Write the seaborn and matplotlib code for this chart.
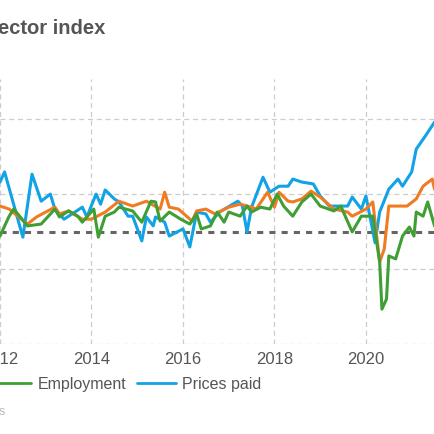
import matplotlib
matplotlib.use("Agg")
import matplotlib.pyplot as plt
import seaborn as sns
import pandas as pd
from matplotlib.lines import Line2D

sns.set_theme(style="white")
plt.rcParams['font.family'] = ['Liberation Sans', 'DejaVu Sans']

prices_t = [2012.0,2012.1,2012.5,2012.7,2012.9,2013.1,2013.2,2013.4,2013.8,2013.9,2014.1,2014.2,2014.3,2014.5,2014.6,2014.8,2014.9,2015.1,2015.2,2015.35,2015.4,2015.6,2015.7,2016.0,2016.15,2016.3,2016.5,2016.6,2016.8,2017.2,2017.3,2017.4,2017.5,2017.75,2017.9,2018.0,2018.1,2018.3,2018.4,2018.6,2018.85,2019.0,2019.2,2019.6,2019.7,2019.9,2020.0,2020.2,2020.3,2020.5,2020.7,2020.8,2021.0,2021.1,2021.3,2021.5]
prices_v = [63.2,65.9,48.5,65.3,58.1,60.0,56.0,53.3,56.5,53.9,60.0,57.3,61.1,58.7,57.9,54.1,54.1,47.5,53.9,51.5,53.9,52.5,48.8,50.7,45.9,55.2,54.7,52.5,55.2,58.1,56.8,49.9,56.5,64.5,60.5,61.3,62.1,62.1,64.0,63.2,62.7,59.5,56.8,56.8,59.2,56.0,59.5,47.0,55.2,61.3,64.0,62.1,65.9,72.0,75.5,79.2]

orders_t = [2012.0,2012.2,2012.6,2012.8,2013.2,2013.3,2013.5,2013.8,2014.0,2014.3,2014.6,2014.9,2015.2,2015.5,2015.6,2015.7,2015.9,2016.2,2016.3,2016.5,2016.7,2017.0,2017.25,2017.5,2017.6,2017.85,2018.0,2018.1,2018.3,2018.4,2018.6,2018.8,2019.0,2019.3,2019.6,2019.7,2020.0,2020.15,2020.3,2020.4,2020.5,2020.9,2021.1,2021.25,2021.45,2021.5]
orders_v = [56.8,56.0,52.0,53.9,56.5,54.7,55.5,53.3,53.3,55.2,58.1,56.8,58.1,56.0,60.5,56.5,56.0,52.8,55.5,56.0,54.7,56.5,57.3,56.5,56.0,60.5,56.5,60.5,58.1,57.9,58.7,60.8,59.2,56.0,55.2,54.1,56.0,57.9,41.9,45.3,56.8,56.8,58.7,62.1,64.0,61.3]

emp_t = [2012.0,2012.2,2012.3,2012.6,2012.9,2013.2,2013.3,2013.5,2013.7,2013.8,2014.05,2014.15,2014.3,2014.5,2014.6,2014.9,2015.1,2015.3,2015.4,2015.5,2015.7,2015.95,2016.15,2016.3,2016.4,2016.6,2016.75,2016.9,2017.0,2017.25,2017.4,2017.5,2017.7,2017.9,2018.06,2018.2,2018.4,2018.6,2018.8,2019.0,2019.3,2019.45,2019.7,2019.9,2020.15,2020.3,2020.35,2020.45,2020.5,2020.65,2020.8,2020.95,2021.05,2021.1,2021.25,2021.35,2021.5]
emp_v = [48.8,54.1,56.0,51.5,52.0,56.0,53.9,55.5,54.1,52.5,56.0,48.5,54.1,55.2,56.5,55.5,52.5,58.1,57.9,52.8,55.2,53.3,52.0,54.7,50.7,51.5,55.2,52.5,55.2,54.1,56.8,55.2,56.5,56.0,60.0,56.8,54.1,57.9,60.0,56.8,55.5,56.8,49.9,54.1,54.1,41.9,29.3,32.0,43.5,42.7,48.8,51.2,48.8,55.2,54.1,57.9,51.5]

xticks = [2012, 2014, 2016, 2018, 2020]
yticks = [20, 40, 60, 80]

c_orange, c_green, c_blue = "#f07b22", "#3f9f35", "#12a2e6"

fig = plt.figure(figsize=(4.35, 4.35), dpi=100)
ax = fig.add_axes([0.0, 1 - 345/435, 1.0, (345-80)/435])

ax.axhline(50, color="#666666", lw=2.2, ls=(0, (2, 2)), zorder=1)
sns.lineplot(x=prices_t, y=prices_v, ax=ax, color=c_blue, lw=2.2, zorder=3)
sns.lineplot(x=orders_t, y=orders_v, ax=ax, color=c_orange, lw=2.2, zorder=4)
sns.lineplot(x=emp_t, y=emp_v, ax=ax, color=c_green, lw=2.2, zorder=5)

ax.set_xlim(2012.013, 2021.51)
ax.set_ylim(20, 90.7)
ax.set_xticks(xticks)
ax.set_yticks(yticks)
ax.set_yticklabels([])
ax.grid(True, color="#cccccc", ls=(0, (4, 3)), lw=0.9)
for s in ax.spines.values():
    s.set_visible(False)
ax.tick_params(axis="x", labelsize=12, colors="#555555", length=0, pad=5)
ax.tick_params(axis="y", length=0)

fig.text(-0.005, 0.935, "ector index", fontsize=14.5, fontweight="bold", color="#555555", va="center", ha="left")

handles = [Line2D([], [], color=c_green, lw=2), Line2D([], [], color=c_blue, lw=2)]
fig.legend(handles, ["Employment", "Prices paid"], loc="center left", bbox_to_anchor=(-0.05, 1 - 385/435),
           ncol=2, frameon=False, fontsize=11.5, handlelength=2.4, handletextpad=0.4, columnspacing=0.7,
           labelcolor="#555555")
fig.text(-0.002, 1 - 412/435, "s", fontsize=9, color="#bbbbbb", va="center", ha="left")

fig.savefig("out.png", dpi=100)
